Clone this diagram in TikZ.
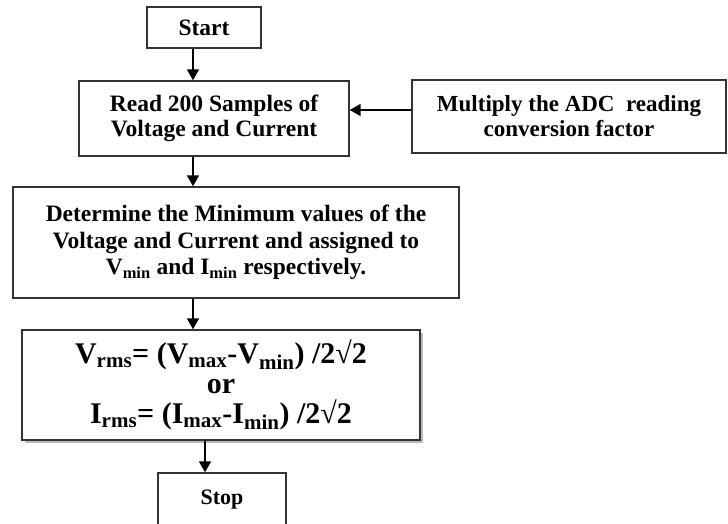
\documentclass[tikz,border=0pt]{standalone}
\usepackage{fontspec}
\setmainfont{Liberation Serif}
\usetikzlibrary{arrows.meta,shadows}
\newcommand\interlinea{\lineskiplimit-20pt\relax}
\tikzset{
  blocco/.style={draw=black!80, fill=white, line width=1.4pt, align=center, inner sep=0pt,
    font=\fontsize{23.5}{24.5}\selectfont\bfseries},
  formula/.style={blocco, font=\fontsize{30}{30}\selectfont\bfseries\interlinea,
    drop shadow={shadow xshift=3pt, shadow yshift=-3pt, fill=black!45, opacity=0.6}},
  freccia/.style={-{Triangle[width=12pt,length=11pt]}, line width=1.6pt}
}
\begin{document}
\begin{tikzpicture}[x=1pt,y=1pt]
  \useasboundingbox (0,0) rectangle (728,-524);
  % Blocchi posizionati a coordinate fisse (in pt, y verso il basso)
  \node[blocco, minimum width=114pt, minimum height=41pt] (start) at (204,-27.5) {Start};
  \node[blocco, minimum width=270pt, minimum height=75pt] (read) at (214,-118.5)
    {Read 200 Samples of\\Voltage and Current};
  \node[blocco, minimum width=314pt, minimum height=73pt,
    font=\fontsize{23}{25}\selectfont\bfseries] (mult) at (569,-116.5)
    {Multiply the ADC\ \ reading\\conversion factor};
  \node[blocco, minimum width=446pt, minimum height=111pt,
    font=\fontsize{23.5}{26.5}\selectfont\bfseries\interlinea] (det) at (236,-242.5)
    {Determine the Minimum values of the\\Voltage and Current and assigned to\\
     V\textsubscript{min} and I\textsubscript{min} respectively.};
  \node[formula, minimum width=398pt, minimum height=110pt] (vrms) at (221,-385)
    {V\textsubscript{rms}= (V\textsubscript{max}-V\textsubscript{min}) /2√2\\or\\
     I\textsubscript{rms}= (I\textsubscript{max}-I\textsubscript{min}) /2√2};
  \node[blocco, minimum width=128pt, minimum height=54pt,
    font=\fontsize{22}{24}\selectfont\bfseries] (stop) at (222,-500) {Stop};
  % Linee guida per le frecce
  \coordinate (tronco) at (193,0);
  \coordinate (ramo) at (205,0);
  \coordinate (ritorno) at (0,-110);
  \draw[freccia] (start.south -| tronco) -- (read.north -| tronco);
  \draw[freccia] (read.south -| tronco) -- (det.north -| tronco);
  \draw[freccia] (det.south -| tronco) -- (vrms.north -| tronco);
  \draw[freccia] (vrms.south -| ramo) -- (stop.north -| ramo);
  \draw[freccia] (mult.west |- ritorno) -- (read.east |- ritorno);
\end{tikzpicture}
\end{document}
